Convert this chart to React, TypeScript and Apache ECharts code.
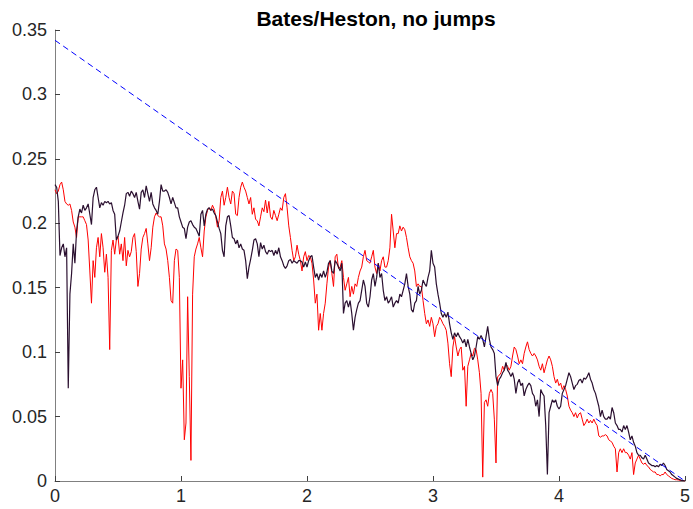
import { useEffect, useRef } from "react";
import * as echarts from "echarts";

const TITLE = "Bates/Heston, no jumps";
const X_TICKS = [0, 1, 2, 3, 4, 5];
const Y_TICKS = [0, 0.05, 0.1, 0.15, 0.2, 0.25, 0.3, 0.35];
// sampling grid of the simulated paths: 76 samples per unit of time, t = 0 .. 5
const SAMPLES_PER_UNIT = 76;

const purpleValues = [
  0.230, 0.228, 0.217, 0.175, 0.181, 0.184, 0.174, 0.181, 0.072, 0.145,
  0.161, 0.184, 0.169, 0.194, 0.205, 0.211, 0.208, 0.214, 0.210, 0.212,
  0.215, 0.207, 0.199, 0.220, 0.226, 0.228, 0.220, 0.212, 0.216, 0.214,
  0.217, 0.216, 0.217, 0.215, 0.216, 0.210, 0.207, 0.187, 0.190, 0.194,
  0.201, 0.208, 0.214, 0.223, 0.224, 0.221, 0.225, 0.223, 0.220, 0.224,
  0.217, 0.211, 0.224, 0.226, 0.220, 0.229, 0.223, 0.217, 0.224, 0.215,
  0.212, 0.210, 0.207, 0.217, 0.230, 0.225, 0.225, 0.226, 0.224, 0.220,
  0.215, 0.220, 0.216, 0.212, 0.212, 0.205, 0.201, 0.197, 0.196, 0.188,
  0.197, 0.201, 0.202, 0.199, 0.197, 0.196, 0.193, 0.190, 0.207, 0.210,
  0.198, 0.207, 0.211, 0.212, 0.210, 0.211, 0.208, 0.206, 0.201, 0.196,
  0.192, 0.179, 0.174, 0.198, 0.205, 0.206, 0.198, 0.189, 0.188, 0.184,
  0.187, 0.181, 0.184, 0.180, 0.179, 0.171, 0.157, 0.166, 0.172, 0.179,
  0.187, 0.188, 0.184, 0.174, 0.185, 0.180, 0.183, 0.178, 0.176, 0.179,
  0.178, 0.179, 0.175, 0.179, 0.176, 0.181, 0.174, 0.171, 0.167, 0.165,
  0.167, 0.171, 0.172, 0.169, 0.171, 0.170, 0.169, 0.171, 0.171, 0.170,
  0.166, 0.170, 0.166, 0.171, 0.174, 0.175, 0.166, 0.158, 0.161, 0.156,
  0.161, 0.158, 0.163, 0.158, 0.162, 0.169, 0.171, 0.163, 0.161, 0.171,
  0.169, 0.166, 0.163, 0.169, 0.130, 0.138, 0.140, 0.135, 0.140, 0.130,
  0.117, 0.127, 0.133, 0.138, 0.140, 0.148, 0.156, 0.151, 0.138, 0.135,
  0.143, 0.156, 0.161, 0.151, 0.158, 0.169, 0.158, 0.161, 0.148, 0.140,
  0.143, 0.138, 0.140, 0.143, 0.135, 0.138, 0.140, 0.138, 0.145, 0.143,
  0.148, 0.153, 0.161, 0.151, 0.145, 0.133, 0.131, 0.138, 0.140, 0.151,
  0.145, 0.148, 0.156, 0.153, 0.151, 0.158, 0.163, 0.179, 0.169, 0.166,
  0.153, 0.145, 0.138, 0.130, 0.127, 0.130, 0.127, 0.131, 0.122, 0.115,
  0.110, 0.115, 0.112, 0.115, 0.112, 0.110, 0.107, 0.110, 0.104, 0.110,
  0.104, 0.099, 0.094, 0.097, 0.104, 0.112, 0.110, 0.113, 0.110, 0.104,
  0.112, 0.120, 0.110, 0.104, 0.102, 0.099, 0.081, 0.074, 0.079, 0.081,
  0.084, 0.086, 0.092, 0.086, 0.084, 0.081, 0.084, 0.079, 0.068, 0.076,
  0.079, 0.074, 0.076, 0.066, 0.071, 0.074, 0.076, 0.074, 0.068, 0.066,
  0.058, 0.063, 0.050, 0.071, 0.068, 0.066, 0.043, 0.005, 0.053, 0.058,
  0.063, 0.061, 0.063, 0.058, 0.056, 0.058, 0.068, 0.071, 0.074, 0.079,
  0.084, 0.081, 0.076, 0.071, 0.074, 0.075, 0.078, 0.079, 0.076, 0.080,
  0.079, 0.081, 0.084, 0.079, 0.076, 0.071, 0.068, 0.063, 0.058, 0.050,
  0.055, 0.050, 0.048, 0.048, 0.050, 0.048, 0.057, 0.053, 0.045, 0.043,
  0.040, 0.040, 0.038, 0.043, 0.040, 0.043, 0.038, 0.032, 0.035, 0.030,
  0.027, 0.022, 0.020, 0.020, 0.018, 0.017, 0.020, 0.017, 0.014, 0.013,
  0.012, 0.012, 0.011, 0.012, 0.011, 0.013, 0.012, 0.014, 0.012, 0.009,
  0.008, 0.007, 0.005, 0.004, 0.003, 0.002, 0.0015, 0.001, 0.0005, 0.0003,
  0,
];

const redValues = [
  0.226, 0.223, 0.225, 0.230, 0.232, 0.226, 0.217, 0.215, 0.214, 0.215,
  0.210, 0.201, 0.197, 0.189, 0.205, 0.205, 0.205, 0.205, 0.202, 0.199,
  0.187, 0.163, 0.138, 0.171, 0.158, 0.181, 0.189, 0.174, 0.192, 0.181,
  0.162, 0.176, 0.158, 0.102, 0.179, 0.187, 0.176, 0.187, 0.190, 0.176,
  0.184, 0.171, 0.189, 0.167, 0.179, 0.174, 0.178, 0.189, 0.192, 0.178,
  0.151, 0.161, 0.180, 0.189, 0.192, 0.196, 0.184, 0.171, 0.181, 0.197,
  0.205, 0.208, 0.206, 0.205, 0.205, 0.198, 0.184, 0.180, 0.171, 0.158,
  0.140, 0.138, 0.171, 0.180, 0.179, 0.158, 0.072, 0.094, 0.032, 0.045,
  0.143, 0.081, 0.016, 0.145, 0.174, 0.180, 0.184, 0.189, 0.181, 0.174,
  0.194, 0.205, 0.210, 0.212, 0.210, 0.214, 0.211, 0.205, 0.197, 0.202,
  0.220, 0.225, 0.214, 0.220, 0.228, 0.220, 0.215, 0.225, 0.223, 0.207,
  0.206, 0.220, 0.228, 0.232, 0.228, 0.225, 0.220, 0.215, 0.220, 0.207,
  0.212, 0.203, 0.202, 0.198, 0.205, 0.212, 0.209, 0.218, 0.208, 0.217,
  0.205, 0.203, 0.210, 0.206, 0.202, 0.207, 0.212, 0.210, 0.220, 0.223,
  0.212, 0.198, 0.189, 0.179, 0.171, 0.174, 0.183, 0.176, 0.171, 0.163,
  0.174, 0.178, 0.171, 0.175, 0.174, 0.169, 0.156, 0.138, 0.145, 0.117,
  0.130, 0.117, 0.130, 0.138, 0.153, 0.166, 0.171, 0.161, 0.151, 0.174,
  0.176, 0.165, 0.166, 0.171, 0.158, 0.148, 0.153, 0.158, 0.143, 0.151,
  0.145, 0.153, 0.151, 0.158, 0.163, 0.166, 0.174, 0.179, 0.171, 0.170,
  0.169, 0.174, 0.179, 0.166, 0.161, 0.169, 0.163, 0.171, 0.174, 0.166,
  0.166, 0.171, 0.181, 0.207, 0.194, 0.181, 0.192, 0.192, 0.198, 0.194,
  0.197, 0.195, 0.189, 0.181, 0.174, 0.171, 0.169, 0.163, 0.151, 0.153,
  0.151, 0.151, 0.140, 0.130, 0.122, 0.125, 0.120, 0.127, 0.122, 0.112,
  0.120, 0.122, 0.127, 0.125, 0.122, 0.120, 0.117, 0.107, 0.091, 0.081,
  0.104, 0.112, 0.104, 0.097, 0.102, 0.104, 0.086, 0.089, 0.058, 0.089,
  0.094, 0.099, 0.097, 0.103, 0.102, 0.094, 0.084, 0.068, 0.003, 0.061,
  0.063, 0.058, 0.068, 0.071, 0.068, 0.048, 0.014, 0.081, 0.082, 0.084,
  0.089, 0.086, 0.091, 0.089, 0.086, 0.089, 0.097, 0.104, 0.102, 0.097,
  0.091, 0.094, 0.091, 0.099, 0.104, 0.108, 0.102, 0.099, 0.097, 0.099,
  0.097, 0.094, 0.089, 0.086, 0.091, 0.084, 0.089, 0.094, 0.097, 0.094,
  0.089, 0.081, 0.076, 0.079, 0.074, 0.076, 0.071, 0.074, 0.071, 0.066,
  0.058, 0.055, 0.053, 0.050, 0.053, 0.049, 0.052, 0.053, 0.048, 0.043,
  0.045, 0.048, 0.045, 0.047, 0.045, 0.048, 0.045, 0.043, 0.035, 0.034,
  0.035, 0.035, 0.036, 0.035, 0.032, 0.031, 0.030, 0.027, 0.025, 0.007,
  0.022, 0.025, 0.022, 0.025, 0.022, 0.022, 0.020, 0.017, 0.022, 0.005,
  0.014, 0.017, 0.020, 0.017, 0.014, 0.013, 0.014, 0.012, 0.011, 0.009,
  0.008, 0.007, 0.007, 0.005, 0.005, 0.004, 0.005, 0.005, 0.007, 0.005,
  0.004, 0.003, 0.002, 0.0015, 0.001, 0.001, 0.0008, 0.0005, 0.0003, 0.0002,
  0,
];

const boundaryT = [0, 5];
const boundaryV = [0.342, 0];

const FONT = "'Liberation Sans', Arial, Helvetica, sans-serif";

export default function App() {
  const ref = useRef<HTMLDivElement>(null);

  useEffect(() => {
    if (!ref.current) return;
    const chart = echarts.init(ref.current, null, { renderer: "svg" });
    const toPairs = (vals: number[]) => vals.map((v, i) => [i / SAMPLES_PER_UNIT, v]);
    const boundary = boundaryT.map((t, i) => [t, boundaryV[i]]);

    chart.setOption({
      animation: false,
      backgroundColor: "#ffffff",
      title: {
        text: TITLE,
        left: 371,
        textAlign: "center",
        top: 3,
        textStyle: { fontFamily: FONT, fontWeight: "bold", fontSize: 21, color: "#000000" },
      },
      grid: { left: 55, right: 6, top: 30, bottom: 28 },
      xAxis: {
        type: "value",
        min: X_TICKS[0],
        max: X_TICKS[X_TICKS.length - 1],
        interval: 1,
        axisLine: { lineStyle: { color: "#808080", width: 1 } },
        axisTick: { inside: true, length: 5, lineStyle: { color: "#404040" } },
        axisLabel: { fontFamily: FONT, fontSize: 18, color: "#262626", margin: 6 },
        splitLine: { show: false },
      },
      yAxis: {
        type: "value",
        min: Y_TICKS[0],
        max: Y_TICKS[Y_TICKS.length - 1],
        interval: 0.05,
        axisLine: { show: true, lineStyle: { color: "#808080", width: 1 } },
        axisTick: { show: true, inside: true, length: 5, lineStyle: { color: "#404040" } },
        axisLabel: {
          fontFamily: FONT,
          fontSize: 18,
          color: "#262626",
          margin: 8,
          formatter: (v: number) => String(+v.toFixed(2)),
        },
        splitLine: { show: false },
      },
      series: [
        {
          name: "path 2",
          type: "line",
          data: toPairs(redValues),
          showSymbol: false,
          symbol: "none",
          lineStyle: { color: "#ff0000", width: 1 },
          z: 2,
        },
        {
          name: "path 1",
          type: "line",
          data: toPairs(purpleValues),
          showSymbol: false,
          symbol: "none",
          lineStyle: { color: "#2b1030", width: 1.2 },
          z: 3,
        },
        {
          name: "boundary",
          type: "line",
          data: boundary,
          showSymbol: false,
          symbol: "none",
          lineStyle: { color: "#0000ff", width: 1, type: [6, 4] },
          z: 4,
        },
      ],
    });
    return () => chart.dispose();
  }, []);

  return (
    <div
      ref={ref}
      style={{ position: "fixed", left: 0, top: 0, width: 693, height: 509, background: "#fff" }}
    />
  );
}
